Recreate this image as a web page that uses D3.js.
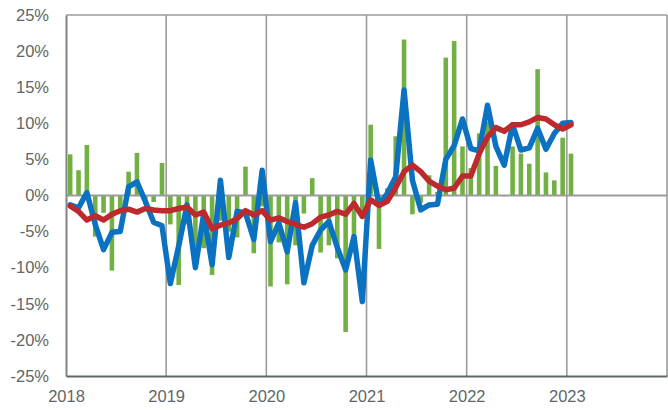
<!DOCTYPE html>
<html>
<head>
<meta charset="utf-8">
<script src="https://cdn.jsdelivr.net/npm/d3@7/dist/d3.min.js"></script>
<style>
  html, body { margin: 0; padding: 0; background: #ffffff; }
  svg { display: block; }
</style>
</head>
<body>
<svg id="chart" width="668" height="410"></svg>
<script>
// ---- Data (monthly, Jan 2018 – Jan 2023) ----
const startYear = 2018;
const months = d3.range(61).map(i => `${startYear + Math.floor(i / 12)}-${String(i % 12 + 1).padStart(2, "0")}`);

const barValues = [
  5.7, 3.5, 7.0, -5.7, -2.4, -10.4, -2.4, 3.3, 5.9, -1.2, -0.9, 4.5,
  -4.0, -12.4, -4.0, -7.5, -7.3, -11.0, -3.5, -5.0, -5.8, 4.0, -8.0, -1.5,
  -12.6, -6.5, -12.3, -6.9, -2.5, 2.4, -7.9, -6.9, -8.7, -18.9, -6.5, -2.5,
  9.8, -7.4, 1.0, 8.2, 21.6, -2.6, -1.0, 2.8, 0.5, 19.1, 21.4, 6.8,
  3.8, 8.6, 10.2, 4.1, -0.1, 6.8, 5.8, 4.4, 17.5, 3.2, 2.1, 8.0,
  5.8
];

const blueValues = [
  -1.3, -1.7, 0.4, -4.0, -7.5, -5.1, -5.0, 1.2, 1.9, -0.8, -3.7, -4.2,
  -12.2, -7.0, -1.3, -10.0, -2.5, -9.6, 2.1, -8.6, -2.2, -2.4, -6.1, 3.5,
  -6.4, -3.8, -7.8, -1.0, -12.1, -6.9, -4.8, -3.6, -7.2, -10.3, -5.7, -14.7,
  4.9, -1.3, 0.3, 2.6, 14.6, 2.1, -2.0, -1.3, -1.2, 5.0, 6.9, 10.6,
  6.5, 6.2, 12.5, 6.8, 4.2, 9.8, 6.3, 6.6, 9.3, 6.4, 8.6, 10.0,
  10.1
];

const redValues = [
  -1.45, -2.2, -3.4, -2.8, -3.4, -2.6, -2.1, -1.9, -2.3, -1.8, -2.0, -2.1,
  -2.1, -1.8, -1.6, -2.7, -2.3, -4.6, -4.1, -3.8, -3.2, -2.1, -2.7, -2.1,
  -3.4, -3.1, -3.6, -4.0, -4.4, -3.9, -3.0, -2.7, -2.2, -2.6, -1.1, -2.9,
  -0.6, -1.4, -0.8, 1.1, 3.3, 4.2, 3.3, 2.0, 1.3, 0.8, 1.0, 2.7,
  2.7, 5.8, 8.1, 9.4, 8.9, 9.8, 9.8, 10.2, 10.8, 10.6, 9.8, 9.2,
  9.8
];

const yearLabels = ["2018", "2019", "2020", "2021", "2022", "2023"];
const yTickValues = [-25, -20, -15, -10, -5, 0, 5, 10, 15, 20, 25];

// ---- Layout ----
const svg = d3.select("#chart");
const plotLeft = 66, plotRight = 667, plotTop = 15, plotBottom = 376;

const x = d3.scaleLinear().domain([0, 72]).range([plotLeft, plotRight]);
const y = d3.scaleLinear().domain([-25, 25]).range([plotBottom, plotTop]);
const slot = x(1) - x(0);
const cx = i => x(i + 0.5);

const gridColor = "#9b9b9b";
const textColor = "#5e6767";

// vertical year gridlines + right border
const gridIdx = d3.range(12, 73, 12);
svg.append("g").selectAll("line").data(gridIdx).join("line")
  .attr("x1", d => x(d)).attr("x2", d => x(d))
  .attr("y1", plotTop).attr("y2", plotBottom)
  .attr("stroke", gridColor).attr("stroke-width", 1.6);

// top border
svg.append("line")
  .attr("x1", plotLeft).attr("x2", plotRight).attr("y1", plotTop).attr("y2", plotTop)
  .attr("stroke", gridColor).attr("stroke-width", 1.6);

// bars
const barW = slot * 0.55;
svg.append("g").selectAll("rect").data(barValues).join("rect")
  .attr("x", (d, i) => cx(i) - barW / 2)
  .attr("width", barW)
  .attr("y", d => y(Math.max(0, d)))
  .attr("height", d => Math.abs(y(d) - y(0)))
  .attr("fill", "#72b043");

// zero line
svg.append("line")
  .attr("x1", plotLeft).attr("x2", plotRight).attr("y1", y(0)).attr("y2", y(0))
  .attr("stroke", gridColor).attr("stroke-width", 2);

// lines
const lineGen = d3.line().x((d, i) => cx(i)).y(d => y(d));
svg.append("path").datum(blueValues)
  .attr("d", lineGen).attr("fill", "none")
  .attr("stroke", "#0a72c0").attr("stroke-width", 5.5)
  .attr("stroke-linejoin", "round").attr("stroke-linecap", "round");
svg.append("path").datum(redValues)
  .attr("d", lineGen).attr("fill", "none")
  .attr("stroke", "#bd2a2e").attr("stroke-width", 5.5)
  .attr("stroke-linejoin", "round").attr("stroke-linecap", "round");

// left axis
const yAxis = d3.axisLeft(y).tickValues(yTickValues).tickSize(0).tickPadding(17)
  .tickFormat(d => d + "%");
const gy = svg.append("g").attr("transform", `translate(${plotLeft},0)`).call(yAxis);
gy.select(".domain").attr("stroke", "#7d8585").attr("stroke-width", 2);
gy.selectAll("text").attr("fill", textColor)
  .style("font-family", "'Liberation Sans', Arial, sans-serif").style("font-size", "16.5px");

// bottom axis
const xAxis = d3.axisBottom(x).tickValues(d3.range(0, 61, 12)).tickSize(0).tickPadding(14)
  .tickFormat((d, i) => yearLabels[i]);
const gx = svg.append("g").attr("transform", `translate(0,${plotBottom})`).call(xAxis);
gx.select(".domain").attr("stroke", "#5d6866").attr("stroke-width", 2.2);
gx.selectAll("text").attr("fill", textColor)
  .style("font-family", "'Liberation Sans', Arial, sans-serif").style("font-size", "16.5px");
</script>
</body>
</html>
